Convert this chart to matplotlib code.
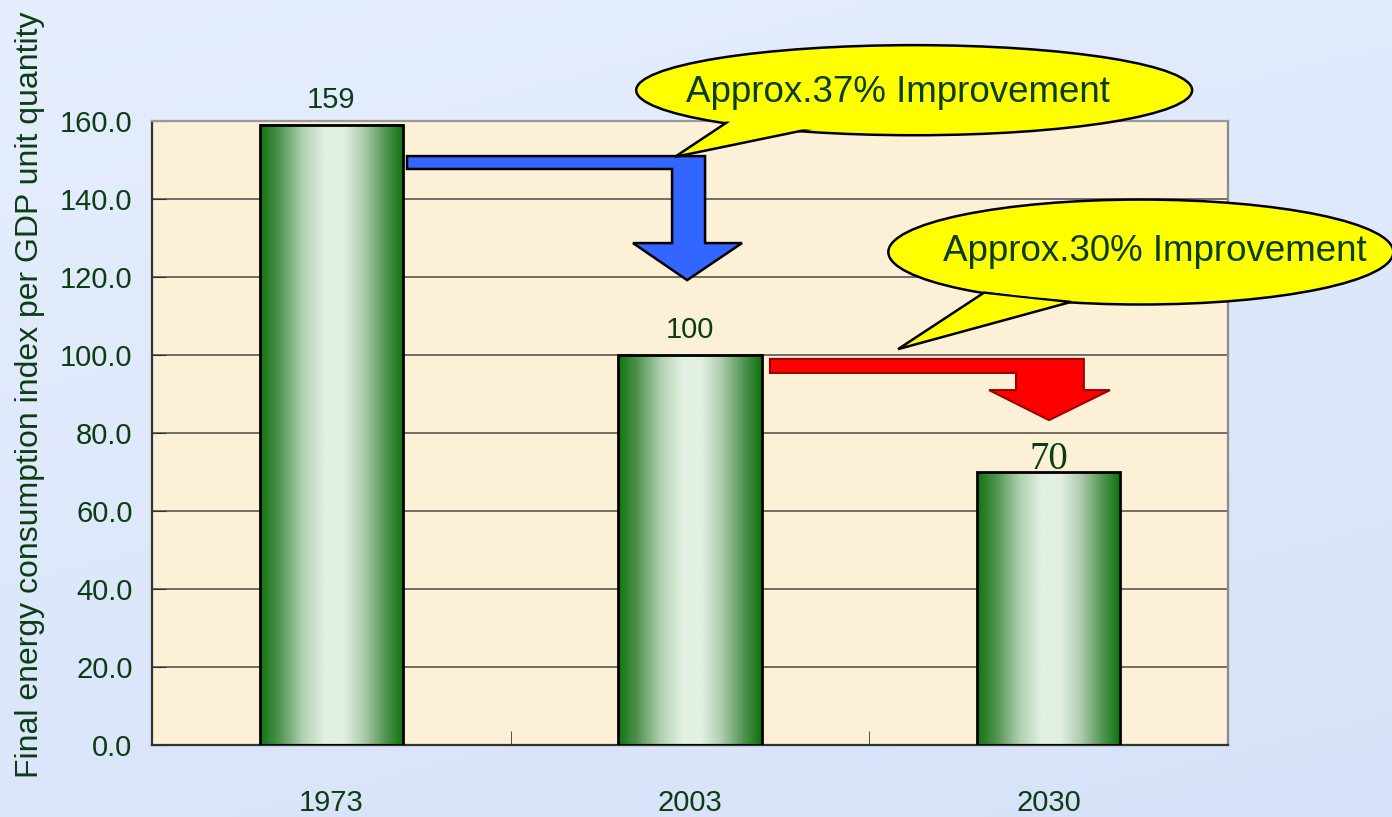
import numpy as np
import matplotlib
matplotlib.use("Agg")
import matplotlib.pyplot as plt
from matplotlib.colors import LinearSegmentedColormap
from matplotlib.patches import Ellipse, Polygon

plt.rcParams['font.family'] = ['Liberation Sans', 'DejaVu Sans']

# data
years = ["1973", "2003", "2030"]
index_vals = [159, 100, 70]
yticks = [0, 20, 40, 60, 80, 100, 120, 140, 160]
ylabel = "Final energy consumption index per GDP unit quantity"
note_1 = "Approx.37% Improvement"
note_2 = "Approx.30% Improvement"

txt_green = "#0b3d12"

fig = plt.figure(figsize=(13.92, 8.17), dpi=100)

# light blue slide background
bg = fig.add_axes([0, 0, 1, 1], zorder=-10)
grad = np.linspace(0, 1, 256).reshape(-1, 1) * 0.7 + np.linspace(0, 0.3, 256).reshape(1, -1)
bg_cmap = LinearSegmentedColormap.from_list("bg", ["#e6eefd", "#d6e2f9"])
bg.imshow(grad, aspect="auto", extent=[0, 1, 0, 1], cmap=bg_cmap, origin="upper")
bg.axis("off")

ax = fig.add_axes([152/1392, 72/817, 1076/1392, 624/817])
ax.set_facecolor("#fcf0d7")

x = np.arange(len(years))
bars = ax.bar(x, index_vals, width=0.4, facecolor="none", edgecolor="black", linewidth=2, zorder=3)

# cylinder-like green shading inside each bar
bar_cmap = LinearSegmentedColormap.from_list("barg", [
    (0.0, "#0f760f"), (0.12, "#4a8f4a"), (0.3, "#b2d2b2"), (0.45, "#e2f0e2"),
    (0.58, "#e2f0e2"), (0.72, "#aecdae"), (0.88, "#4f934f"), (1.0, "#0c740c")])
shade = np.linspace(0, 1, 200).reshape(1, -1)
for b in bars:
    ax.imshow(shade, cmap=bar_cmap, aspect="auto", zorder=2.5,
              extent=[b.get_x(), b.get_x() + b.get_width(), 0, b.get_height()])

ax.set_xlim(-0.5, 2.5)
ax.set_ylim(0, 160)

ax.set_yticks(yticks)
ax.set_yticklabels([f"{v:.1f}" for v in yticks])
ax.yaxis.grid(True, color="#4a4a4a", linewidth=1.1, zorder=1)
ax.set_axisbelow(True)
ax.tick_params(axis="y", direction="in", length=10, pad=14, labelsize=21, labelcolor=txt_green, color="#333333")

ax.set_xticks(x)
ax.set_xticklabels(years)
ax.set_xticks([0.5, 1.5, 2.5], minor=True)
ax.tick_params(axis="x", which="major", length=0, pad=32, labelsize=21, labelcolor=txt_green)
ax.tick_params(axis="x", which="minor", direction="in", length=10, color="#333333")

for side, c in [("left", "#333333"), ("bottom", "#333333"), ("top", "#9a9a9a"), ("right", "#8a8a8a")]:
    ax.spines[side].set_color(c)
    ax.spines[side].set_linewidth(1.6)

ax.set_ylabel(ylabel, fontsize=23, color=txt_green)
ax.yaxis.set_label_coords(-0.113, 0.561)
ax.yaxis.label.set_verticalalignment("center")

# value labels
label_font = ["sans", "sans", "serif"]
label_off = [12, 12, 2]
for b, v, f, off in zip(bars, index_vals, label_font, label_off):
    kw = dict(fontsize=21) if f == "sans" else dict(fontsize=28, family=["Liberation Serif", "DejaVu Serif"])
    ax.annotate(str(v), (b.get_x() + b.get_width() / 2, b.get_height()), xytext=(0, off),
                textcoords="offset points", ha="center", va="baseline", color=txt_green, zorder=5, **kw)

# bent arrows
blue_arrow = [(0.211, 151.0), (1.042, 151.0), (1.042, 128.7), (1.145, 128.7), (0.992, 119.2),
              (0.841, 128.7), (0.950, 128.7), (0.950, 147.7), (0.211, 147.7)]
red_arrow = [(1.223, 99.0), (2.098, 99.0), (2.098, 91.0), (2.171, 91.0), (2.001, 83.3),
             (1.834, 91.0), (1.909, 91.0), (1.909, 95.4), (1.223, 95.4)]
ax.add_patch(Polygon(blue_arrow, closed=True, facecolor="#3366ff", edgecolor="black", linewidth=1.8, zorder=6))
ax.add_patch(Polygon(red_arrow, closed=True, facecolor="#ff0000", edgecolor="#990000", linewidth=1.5, zorder=6))


def callout(center, w, h, tail, text, tx, fs):
    e_kw = dict(facecolor="#ffff00", clip_on=False, zorder=7)
    ax.add_patch(Ellipse(center, w, h, edgecolor="black", linewidth=1.8, **e_kw))
    ax.add_patch(Polygon(tail, closed=True, edgecolor="black", linewidth=1.8, **e_kw))
    ax.add_patch(Ellipse(center, w * 0.985, h * 0.95, edgecolor="none", **e_kw))
    ax.text(tx[0], tx[1], text, ha="center", va="center", fontsize=fs, color=txt_green,
            zorder=8, clip_on=False)


callout((1.625, 167.9), 1.550, 23.1, [(1.125, 161.0), (1.390, 159.0), (0.958, 150.8)],
        note_1, (1.580, 167.4), 26.5)
callout((2.257, 126.4), 1.408, 26.9, [(1.820, 116.0), (2.062, 113.6), (1.580, 101.5)],
        note_2, (2.296, 126.6), 26.5)

fig.savefig("out.png", dpi=100)
